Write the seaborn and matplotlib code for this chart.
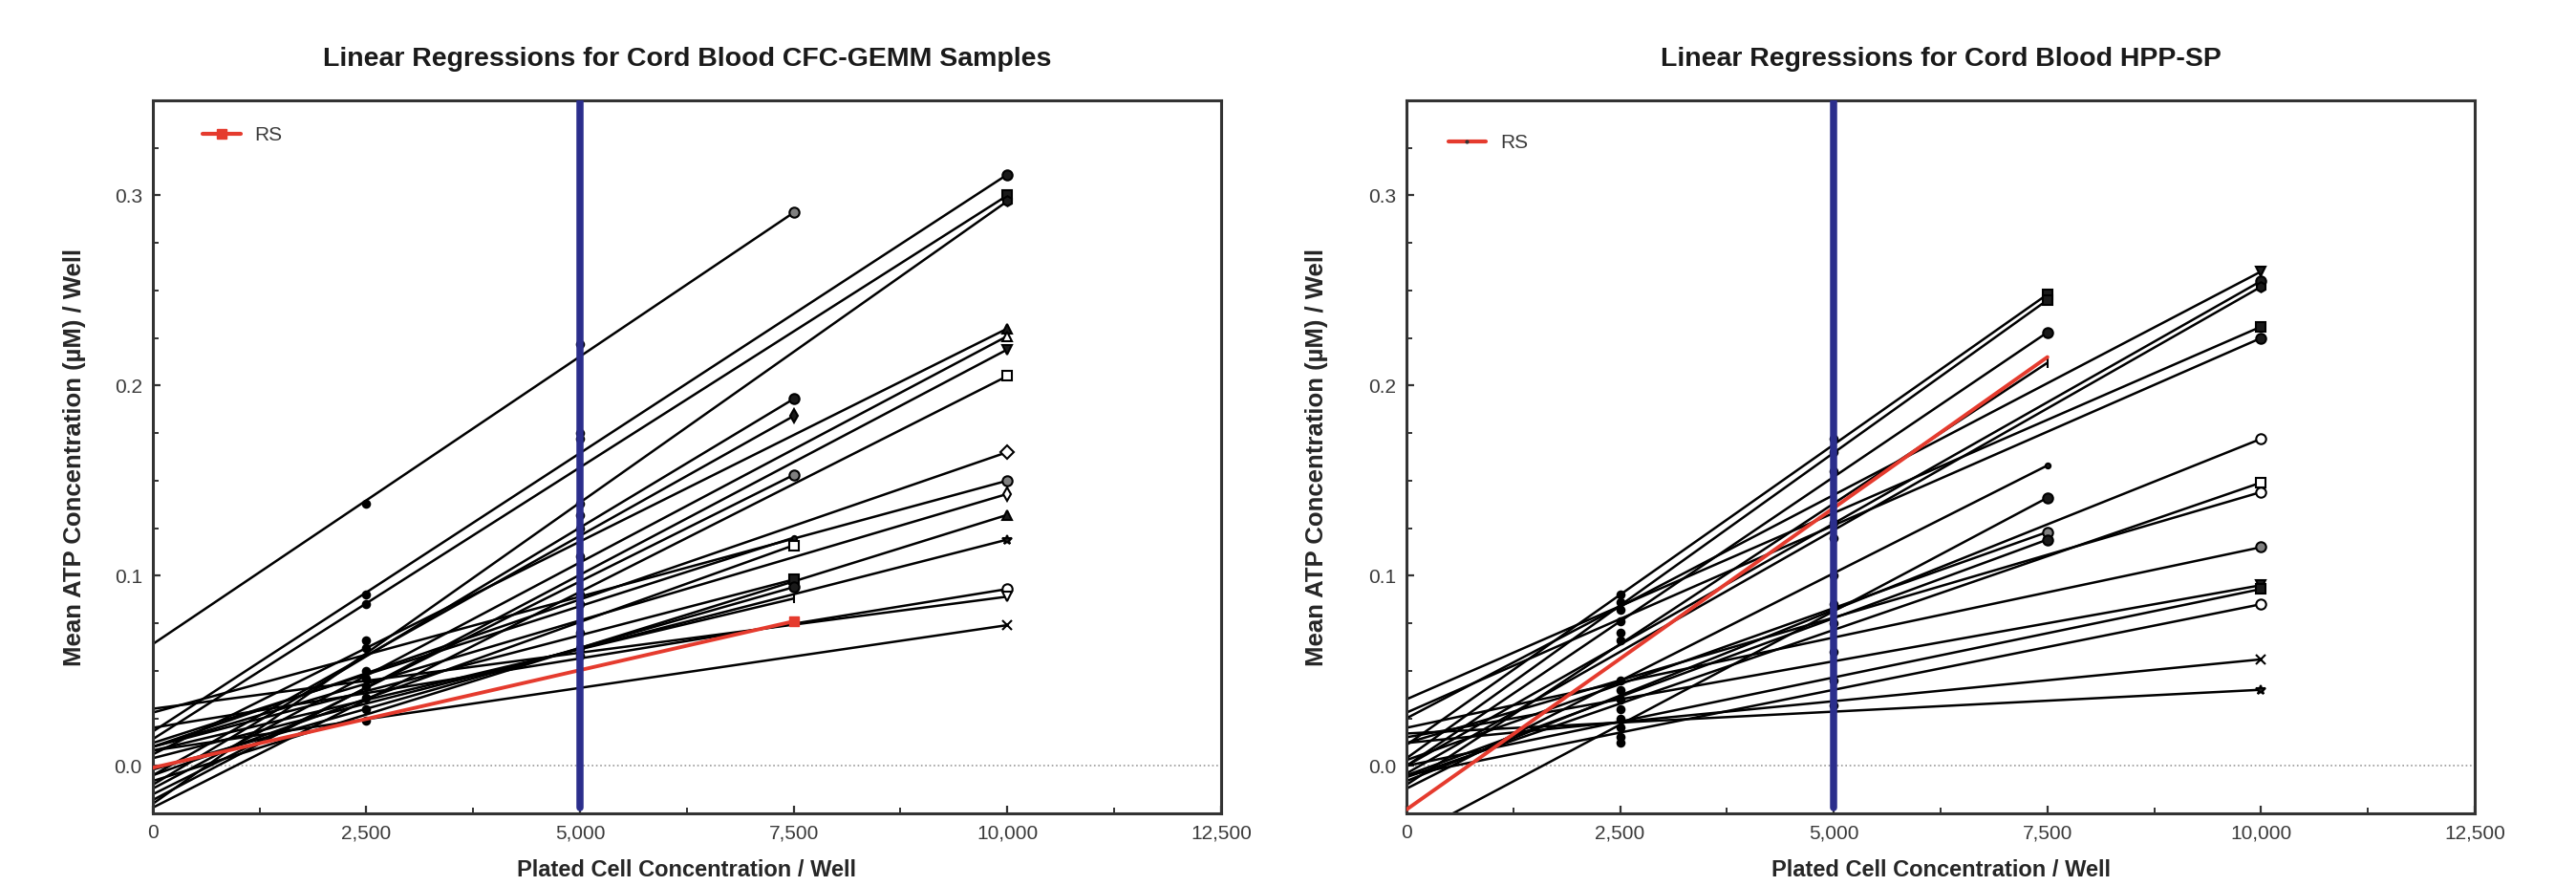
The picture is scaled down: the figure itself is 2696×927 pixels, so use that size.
import numpy as np
import pandas as pd
import matplotlib.pyplot as plt
import matplotlib.ticker as mticker
from matplotlib.lines import Line2D
import seaborn as sns

# ---- CFC-GEMM panel: each regression line = value at x=0 and at the last plated concentration
gemm_start = [0.064, 0.018, 0.014, -0.020, -0.010, -0.005, 0.006, -0.012, -0.018, -0.022, -0.015, 0.010,
              0.028, 0.010, -0.008, 0.004, 0.012, -0.005, 0.010, -0.002, 0.008, 0.020, 0.030, 0.008]
gemm_end = [0.291, 0.311, 0.300, 0.297, 0.193, 0.184, 0.230, 0.226, 0.219, 0.205, 0.153, 0.165,
            0.150, 0.143, 0.132, 0.119, 0.120, 0.116, 0.098, 0.094, 0.088, 0.093, 0.089, 0.074]
gemm_xend = [7500, 10000, 10000, 10000, 7500, 7500, 10000, 10000, 10000, 10000, 7500, 10000,
             10000, 10000, 10000, 10000, 7500, 7500, 7500, 7500, 7500, 10000, 10000, 10000]
gemm_marker = ["o", "o", "s", "h", "o", "d", "^", "^", "v", "s", "o", "D",
               "o", "d", "^", "*", ".", "s", "s", "o", "|", "o", "v", "x"]
gemm_fill = ["grey", "k", "k", "k", "k", "k", "k", "w", "k", "w", "grey", "w",
             "grey", "w", "k", "k", "k", "w", "k", "k", "k", "w", "w", "k"]
gemm_rs = (-0.001, 0.076, 7500)
gemm_mid_2500 = [0.138, 0.090, 0.085, 0.066, 0.062, 0.050, 0.046, 0.042, 0.036, 0.030, 0.024]
gemm_mid_5000 = [0.222, 0.175, 0.172, 0.138, 0.132, 0.125, 0.110, 0.090, 0.085, 0.070, 0.062, 0.058]

# ---- HPP-SP panel
hpp_start = [0.011, 0.004, 0.000, -0.010, -0.012, -0.038, 0.003, -0.005, 0.025, 0.000, -0.004,
             0.035, 0.028, -0.008, -0.006, 0.012, 0.020, 0.015, 0.000, -0.005, 0.012, 0.017]
hpp_end = [0.248, 0.245, 0.228, 0.212, 0.158, 0.141, 0.123, 0.119, 0.260, 0.255, 0.252,
           0.231, 0.225, 0.172, 0.149, 0.144, 0.115, 0.095, 0.093, 0.085, 0.056, 0.040]
hpp_xend = [7500, 7500, 7500, 7500, 7500, 7500, 7500, 7500, 10000, 10000, 10000,
            10000, 10000, 10000, 10000, 10000, 10000, 10000, 10000, 10000, 10000, 10000]
hpp_marker = ["s", "s", "o", "|", ".", "o", "o", "o", "v", "o", "h",
              "s", "o", "o", "s", "o", "o", "v", "s", "o", "x", "*"]
hpp_fill = ["k", "k", "k", "k", "k", "k", "grey", "k", "k", "k", "k",
            "k", "k", "w", "w", "w", "grey", "k", "k", "w", "k", "k"]
hpp_rs = (-0.023, 0.215, 7500)
hpp_mid_2500 = [0.090, 0.086, 0.082, 0.076, 0.070, 0.066, 0.045, 0.040, 0.035, 0.030, 0.025, 0.020, 0.015, 0.012]
hpp_mid_5000 = [0.172, 0.165, 0.155, 0.128, 0.120, 0.100, 0.085, 0.075, 0.060, 0.045, 0.032]

RED = "#E53B2E"
NAVY = "#2B2E8C"

sns.set_theme(style="white")
plt.rcParams["font.family"] = ["Liberation Sans", "DejaVu Sans"]

fig = plt.figure(figsize=(26.96, 9.27), dpi=100)


def draw_panel(ax, title, starts, ends, xends, markers, fills, rs, mid25, mid50, rs_marker, ylabelpad):
    rows = []
    for i, (s, e, xe) in enumerate(zip(starts, ends, xends)):
        rows.append({"series": f"s{i}", "x": 0, "y": s})
        rows.append({"series": f"s{i}", "x": xe, "y": e})
    df = pd.DataFrame(rows)
    pal = {f"s{i}": "black" for i in range(len(starts))}
    sns.lineplot(data=df, x="x", y="y", hue="series", palette=pal, units="series",
                 estimator=None, legend=False, linewidth=1.8, ax=ax)

    mid = pd.DataFrame({"x": [2500] * len(mid25) + [5000] * len(mid50), "y": mid25 + mid50})
    sns.scatterplot(data=mid, x="x", y="y", color="black", s=48, marker="o", linewidth=0, ax=ax)

    for xe, e, m, f in zip(xends, ends, markers, fills):
        ax.plot([xe], [e], linestyle="none", marker=m, markersize=7.5,
                markerfacecolor=f, markeredgecolor="black", markeredgewidth=1.5, color="black")

    # RS regression in red
    ax.plot([0, rs[2]], [rs[0], rs[1]], color=RED, linewidth=2.8, zorder=5)
    if rs_marker == "s":
        ax.plot([rs[2]], [rs[1]], marker="s", color=RED, markersize=7.5, zorder=6)

    ax.axhline(0, color="#9a9a9a", linestyle=":", linewidth=1.2, zorder=0)
    ax.axvline(5000, ymin=0.008, ymax=1, color=NAVY, linewidth=5.4, zorder=7)

    ax.set_xlim(0, 12500)
    ax.set_ylim(-0.025, 0.35)
    ax.xaxis.set_major_locator(mticker.MultipleLocator(2500))
    ax.xaxis.set_minor_locator(mticker.MultipleLocator(1250))
    ax.yaxis.set_major_locator(mticker.FixedLocator([0.0, 0.1, 0.2, 0.3]))
    ax.yaxis.set_minor_locator(mticker.MultipleLocator(0.025))
    ax.xaxis.set_major_formatter(mticker.FuncFormatter(lambda v, p: f"{int(v):,}"))
    ax.yaxis.set_major_formatter(mticker.FormatStrFormatter("%.1f"))
    ax.tick_params(which="major", direction="in", length=6, width=1.6, labelsize=15,
                   labelcolor="#3a3a3a", color="#333333", pad=8)
    ax.tick_params(which="minor", direction="in", length=4, width=1.4, color="#333333")
    ax.tick_params(axis="x", which="both", bottom=True)
    ax.tick_params(axis="y", which="both", left=True)
    for sp in ax.spines.values():
        sp.set_linewidth(2.2)
        sp.set_color("#333333")

    ax.set_title(title, fontsize=20.5, fontweight="bold", pad=26, color="#1a1a1a")
    ax.set_xlabel("Plated Cell Concentration / Well", fontsize=17, fontweight="bold", labelpad=13)
    ax.set_ylabel("Mean ATP Concentration (\u00b5M) / Well", fontsize=18.5, fontweight="bold",
                  labelpad=ylabelpad)

    if rs_marker == "s":
        handle = Line2D([], [], color=RED, linewidth=3, marker="s", markersize=7)
        anchor = (0.047, 0.951)
    else:
        handle = Line2D([], [], color=RED, linewidth=3, marker=".", markersize=4,
                        markerfacecolor="#333333", markeredgecolor="#333333")
        anchor = (0.039, 0.940)
    ax.legend(handles=[handle], labels=["RS"], loc="center left", bbox_to_anchor=anchor,
              frameon=False, fontsize=15, handlelength=1.9, handletextpad=0.7,
              borderpad=0, borderaxespad=0, labelcolor="#3a3a3a")


ax1 = fig.add_axes([0.0593, 0.082, 0.4147, 0.8047])
ax2 = fig.add_axes([0.546, 0.082, 0.4147, 0.8047])

draw_panel(ax1, "Linear Regressions for Cord Blood CFC-GEMM Samples", gemm_start, gemm_end, gemm_xend,
           gemm_marker, gemm_fill, gemm_rs, gemm_mid_2500, gemm_mid_5000, "s", 21)
draw_panel(ax2, "Linear Regressions for Cord Blood HPP-SP", hpp_start, hpp_end, hpp_xend,
           hpp_marker, hpp_fill, hpp_rs, hpp_mid_2500, hpp_mid_5000, ".", 30)

fig.savefig("out.png", dpi=100)
